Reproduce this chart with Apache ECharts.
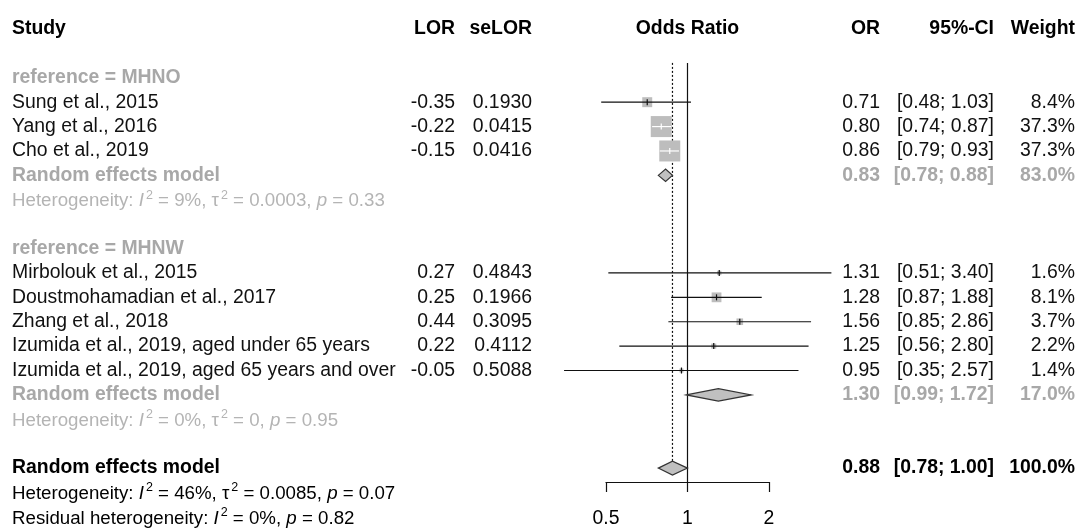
<!DOCTYPE html>
<html>
<head>
<meta charset="utf-8">
<script src="https://cdn.jsdelivr.net/npm/echarts@6/dist/echarts.min.js"></script>
<style>
  html, body { margin: 0; padding: 0; background: #fff; }
  #main { width: 1078px; height: 529px; }
</style>
</head>
<body>
<div id="main"></div>
<script>
// study level data
var studies = [
  "Sung et al., 2015",
  "Yang et al., 2016",
  "Cho et al., 2019",
  "Mirbolouk et al., 2015",
  "Doustmohamadian et al., 2017",
  "Zhang et al., 2018",
  "Izumida et al., 2019, aged under 65 years",
  "Izumida et al., 2019, aged 65 years and over"
];
var lor = ["-0.35", "-0.22", "-0.15", "0.27", "0.25", "0.44", "0.22", "-0.05"];
var seLor = ["0.1930", "0.0415", "0.0416", "0.4843", "0.1966", "0.3095", "0.4112", "0.5088"];
var orEst = [0.71, 0.80, 0.86, 1.31, 1.28, 1.56, 1.25, 0.95];
var ciLow = [0.48, 0.74, 0.79, 0.51, 0.87, 0.85, 0.56, 0.35];
var ciHigh = [1.03, 0.87, 0.93, 3.40, 1.88, 2.86, 2.80, 2.57];
var weights = [8.4, 37.3, 37.3, 1.6, 8.1, 3.7, 2.2, 1.4];
var studyRows = [3, 4, 5, 10, 11, 12, 13, 14];

// subgroups
var subgroupLabels = ["reference = MHNO", "reference = MHNW"];
var subgroupRows = [2, 9];

// pooled estimates (two subgroups + overall)
var pooledOR = [0.83, 1.30, 0.88];
var pooledLow = [0.78, 0.99, 0.78];
var pooledHigh = [0.88, 1.72, 1.00];
var pooledWeight = ["83.0%", "17.0%", "100.0%"];
var pooledRows = [6, 15, 18];

// heterogeneity statistics
var hetI2 = ["9%", "0%", "46%"];
var hetTau2 = ["0.0003", "0", "0.0085"];
var hetP = ["0.33", "0.95", "0.07"];
var hetRows = [7, 16, 19];
var residI2 = "0%";
var residP = "0.82";
var residRow = 20;

var headers = ["Study", "LOR", "seLOR", "Odds Ratio", "OR", "95%-CI", "Weight"];
var xTicks = [0.5, 1, 2];

var FONT = "'Liberation Sans', Arial, sans-serif";
var FS = 19.4;
var HFS = 18.7;
var GRAY = "#a8a8a8";
var HGRAY = "#b4b4b4";
var colX = { study: 12, lor: 455, se: 532, or: 880, ci: 994, w: 1075 };

function fmt2(v) { return v.toFixed(2); }
function ciText(lo, hi) { return "[" + fmt2(lo) + "; " + fmt2(hi) + "]"; }

// build text table from the arrays
var cells = [];
function addCell(row, x, text, align, color, bold, rich) {
  cells.push({ row: row, x: x, text: text, align: align, color: color, bold: bold, rich: rich });
}
addCell(0, colX.study, headers[0], "left", "#000", true);
addCell(0, colX.lor, headers[1], "right", "#000", true);
addCell(0, colX.se, headers[2], "right", "#000", true);
addCell(0, null, headers[3], "center", "#000", true);
addCell(0, colX.or, headers[4], "right", "#000", true);
addCell(0, colX.ci, headers[5], "right", "#000", true);
addCell(0, colX.w, headers[6], "right", "#000", true);

subgroupLabels.forEach(function (s, i) {
  addCell(subgroupRows[i], colX.study, s, "left", GRAY, true);
});
studies.forEach(function (s, i) {
  var r = studyRows[i];
  addCell(r, colX.study, s, "left", "#111", false);
  addCell(r, colX.lor, lor[i], "right", "#111", false);
  addCell(r, colX.se, seLor[i], "right", "#111", false);
  addCell(r, colX.or, fmt2(orEst[i]), "right", "#111", false);
  addCell(r, colX.ci, ciText(ciLow[i], ciHigh[i]), "right", "#111", false);
  addCell(r, colX.w, weights[i].toFixed(1) + "%", "right", "#111", false);
});
pooledRows.forEach(function (r, i) {
  var c = i < 2 ? GRAY : "#000";
  addCell(r, colX.study, "Random effects model", "left", c, true);
  addCell(r, colX.or, fmt2(pooledOR[i]), "right", c, true);
  addCell(r, colX.ci, ciText(pooledLow[i], pooledHigh[i]), "right", c, true);
  addCell(r, colX.w, pooledWeight[i], "right", c, true);
});
hetRows.forEach(function (r, i) {
  var c = i < 2 ? HGRAY : "#000";
  var t = "{n|Heterogeneity: }{i|I}{s|2}{n| = " + hetI2[i] + ", τ}{s|2}{n| = " + hetTau2[i] +
    ", }{i|p}{n| = " + hetP[i] + "}";
  addCell(r, colX.study, t, "left", c, false, true);
});
addCell(residRow, colX.study,
  "{n|Residual heterogeneity: }{i|I}{s|2}{n| = " + residI2 + ", }{i|p}{n| = " + residP + "}",
  "left", "#000", false, true);

function richStyles(color) {
  return {
    n: { fontSize: HFS, fontFamily: FONT, fill: color, lineHeight: 22, verticalAlign: "bottom" },
    i: { fontSize: HFS, fontFamily: FONT, fontStyle: "italic", fill: color, lineHeight: 22, verticalAlign: "bottom" },
    s: { fontSize: 12.5, fontFamily: FONT, fill: color, lineHeight: 15, verticalAlign: "top", padding: [0, 0, 0, 2] }
  };
}

function renderText(params, api) {
  var c = cells[params.dataIndex];
  var y = api.coord([1, c.row])[1];
  var x = c.x === null ? api.coord([1, c.row])[0] : c.x;
  var style = {
    text: c.text, x: x, y: y, align: c.align, verticalAlign: "middle", fill: c.color,
    font: (c.bold ? "bold " : "") + FS + "px " + FONT
  };
  if (c.rich) {
    style.rich = richStyles(c.color);
  }
  return { type: "text", silent: true, style: style };
}

var SQ = 3.44;
var LW = 1.2;
function renderStudy(params, api) {
  var i = params.dataIndex;
  var r = studyRows[i];
  var lo = api.coord([ciLow[i], r]);
  var hi = api.coord([ciHigh[i], r]);
  var est = api.coord([orEst[i], r]);
  var side = SQ * Math.sqrt(weights[i]);
  var lc = (hi[0] - lo[0]) < side ? "#fff" : "#111";
  return {
    type: "group",
    children: [
      { type: "rect", shape: { x: est[0] - side / 2, y: est[1] - side / 2, width: side, height: side },
        style: { fill: "#bdbdbd" } },
      { type: "line", shape: { x1: lo[0], y1: lo[1], x2: hi[0], y2: hi[1] },
        style: { stroke: lc, lineWidth: LW } },
      { type: "line", shape: { x1: est[0], y1: est[1] - 3, x2: est[0], y2: est[1] + 3 },
        style: { stroke: lc, lineWidth: LW } }
    ]
  };
}

function renderDiamond(params, api) {
  var i = params.dataIndex;
  var r = pooledRows[i];
  var lo = api.coord([pooledLow[i], r]);
  var hi = api.coord([pooledHigh[i], r]);
  var est = api.coord([pooledOR[i], r]);
  var h = i < 2 ? 6.2 : 7;
  return {
    type: "polygon",
    shape: { points: [[lo[0], lo[1]], [est[0], est[1] - h], [hi[0], hi[1]], [est[0], est[1] + h]] },
    style: { fill: "#c0c0c0", stroke: "#333", lineWidth: LW }
  };
}

// reference lines: null effect (solid) and overall estimate (dotted)
var refLines = [
  { x: 1, from: 1.39, to: 18.57, dash: null },
  { x: pooledOR[2], from: 1.39, to: 18, dash: [2, 2] }
];
function renderRef(params, api) {
  var l = refLines[params.dataIndex];
  var a = api.coord([l.x, l.from]);
  var b = api.coord([l.x, l.to]);
  return {
    type: "line",
    shape: { x1: a[0], y1: a[1], x2: b[0], y2: b[1] },
    style: { stroke: "#111", lineWidth: LW, lineDash: l.dash }
  };
}

var myChart = echarts.init(document.getElementById("main"), null, { renderer: "canvas" });
var option = {
  animation: false,
  backgroundColor: "#fff",
  grid: { left: 606, right: 309, top: 29, bottom: 47, containLabel: false },
  xAxis: {
    type: "log",
    logBase: 2,
    position: "bottom",
    min: xTicks[0],
    max: xTicks[xTicks.length - 1],
    axisLine: { show: true, onZero: false, lineStyle: { color: "#111", width: LW } },
    axisTick: { show: true, length: 10, lineStyle: { color: "#111", width: LW } },
    splitLine: { show: false },
    axisLabel: {
      margin: 27, color: "#000", fontSize: FS, fontFamily: FONT,
      formatter: function (v) { return String(+(+v).toPrecision(3)); }
    }
  },
  yAxis: { type: "value", inverse: true, min: 0, max: 18.57, show: false },
  series: [
    { type: "custom", clip: false, renderItem: renderRef, z: 1,
      data: refLines.map(function (l) { return [l.x, l.from]; }) },
    { type: "custom", clip: false, renderItem: renderStudy, z: 2,
      data: orEst.map(function (v, i) { return [v, studyRows[i]]; }) },
    { type: "custom", clip: false, renderItem: renderDiamond, z: 2,
      data: pooledOR.map(function (v, i) { return [v, pooledRows[i]]; }) },
    { type: "custom", clip: false, renderItem: renderText, z: 3,
      data: cells.map(function (c) { return [1, c.row]; }) }
  ]
};
myChart.setOption(option);
</script>
</body>
</html>
